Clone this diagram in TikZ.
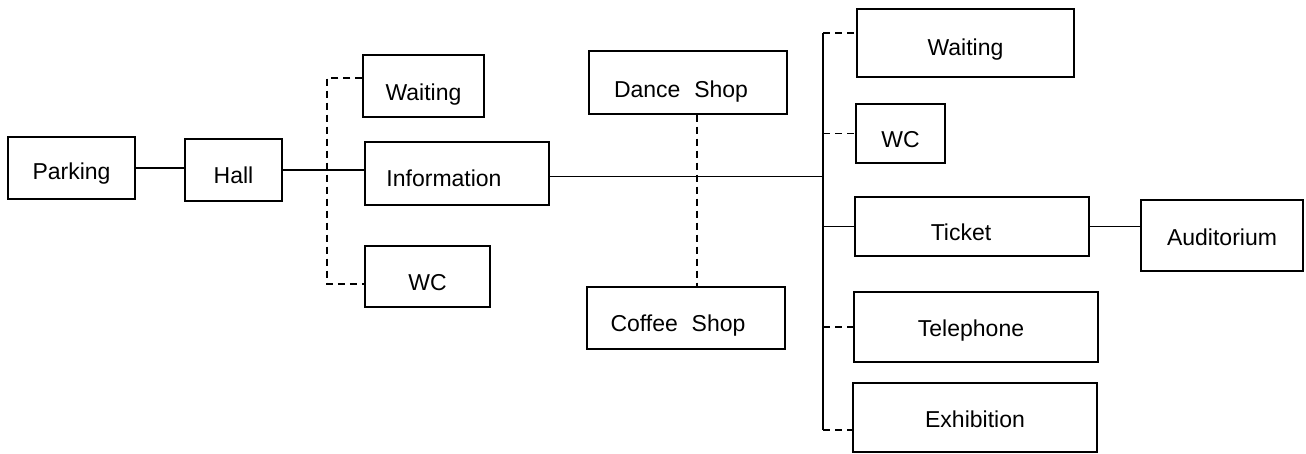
\documentclass[tikz,border=0pt]{standalone}
\usepackage{fontspec}
\setmainfont{Liberation Sans}
\begin{document}
\begin{tikzpicture}[x=1pt,y=-1pt,
  box/.style={draw, line width=1.5pt, inner sep=0pt, text height=26.5pt, text depth=0pt, font=\fontsize{23}{27}\selectfont},
  solidline/.style={line width=1.5pt},
  dashline/.style={line width=1.5pt, dash pattern=on 7pt off 5pt}]
\useasboundingbox (0,0) rectangle (1306,454);
% boxes
\node[box, minimum width=127pt, minimum height=62pt, text height=22.5pt] (parking) at (71.5,168) {Parking};
\node[box, minimum width=97pt, minimum height=62pt] (hall) at (233.5,170) {Hall};
\node[box, minimum width=121pt, minimum height=62pt, text height=28.5pt] (lwait) at (423.5,86) {Waiting};
\node[box, minimum width=184pt, minimum height=63pt] (info) at (457,173.5) {\hspace*{-26pt}Information};
\node[box, minimum width=125pt, minimum height=61pt, text height=28.5pt] (lwc) at (427.5,276.5) {WC};
\node[box, minimum width=198pt, minimum height=63pt, text height=30.5pt] (dance) at (688,82.5) {\hspace*{-14pt}Dance\hspace{0.6em}Shop};
\node[box, minimum width=198pt, minimum height=62pt] (coffee) at (686,318) {\hspace*{-16pt}Coffee\hspace{0.6em}Shop};
\node[box, minimum width=217pt, minimum height=68pt, text height=24.5pt] (rwait) at (965.5,43) {Waiting};
\node[box, minimum width=89pt, minimum height=59pt, text height=28.5pt] (rwc) at (900.5,133.5) {WC};
\node[box, minimum width=234pt, minimum height=59pt, text height=28.5pt] (ticket) at (972,226.5) {\hspace*{-22pt}Ticket};
\node[box, minimum width=162pt, minimum height=71pt, text height=20.5pt] (aud) at (1222,235.5) {Auditorium};
\node[box, minimum width=244pt, minimum height=70pt, text height=18.5pt] (tel) at (976,327) {\hspace*{-10pt}Telephone};
\node[box, minimum width=244pt, minimum height=69pt, text height=20.5pt] (exh) at (975,417.5) {Exhibition};
% coordinates
\coordinate (lt) at (327,78);
\coordinate (lb) at (327,284);
\coordinate (bt) at (823,33);
\coordinate (bb) at (823,430);
% left connectors
\draw[solidline] (parking.east) -- (parking.east -| hall.west);
\draw[solidline] (hall.east) -- (hall.east -| info.west);
\draw[dashline] (lt -| lwait.west) -- (lt) -- (lb) -- (lb -| lwc.west);
% middle
\draw[solidline] ([yshift=-3pt]info.east) -- ([yshift=-3pt]info.east -| bt);
\draw[dashline] ([xshift=9pt]dance.south) -- ([xshift=9pt]dance.south |- coffee.north);
% right bus
\draw[solidline] (bt) -- (bb);
\draw[dashline] (bt) -- (bt -| rwait.west);
\draw[dashline] (rwc.west -| bt) -- (rwc.west);
\draw[solidline] (ticket.west -| bt) -- (ticket.west);
\draw[dashline] (tel.west -| bt) -- (tel.west);
\draw[dashline] (bb) -- (bb -| exh.west);
\draw[solidline] (ticket.east) -- (ticket.east -| aud.west);
\end{tikzpicture}
\end{document}
